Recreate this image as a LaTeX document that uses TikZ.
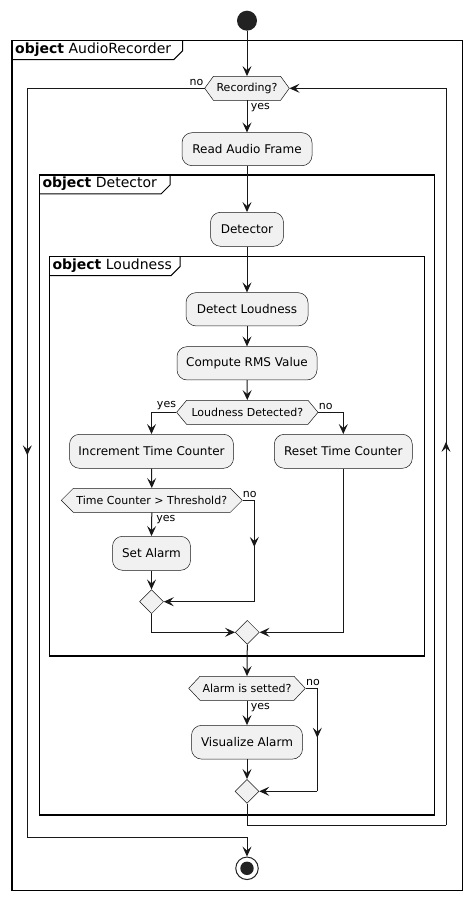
\documentclass[tikz,border=0pt]{standalone}
\usepackage{fontspec}
\setmainfont{DejaVu Sans}
\usetikzlibrary{arrows.meta,shapes.geometric,decorations.markings}

\definecolor{ln}{HTML}{181818}
\definecolor{bx}{HTML}{F1F1F1}
\definecolor{dot}{HTML}{222222}

\tikzset{
  arr/.tip={Stealth[length=10pt,width=9pt,inset=4pt]},
  flow/.style={draw=ln, line width=1pt},
  flowa/.style={flow, -arr},
  midarr/.style={flow, postaction={decorate},
    decoration={markings, mark=at position #1 with {\arrow{arr}}}},
  midarr/.default=0.5,
  act/.style={draw=ln, line width=0.5pt, fill=bx, rounded corners=10pt,
    inner sep=0pt, font=\fontsize{12}{14}\selectfont},
  hexbox/.style={draw=ln, line width=0.5pt, fill=bx},
  hextext/.style={inner sep=0pt, minimum height=24pt, font=\fontsize{11}{13}\selectfont},
  merge/.style={diamond, draw=ln, line width=0.5pt, fill=bx, minimum width=24pt,
    minimum height=24pt, inner sep=0pt, aspect=1},
  lbl/.style={font=\fontsize{11}{13}\selectfont, inner sep=0pt},
  frm/.style={draw=black, line width=1.5pt},
  tabline/.style={draw=black, line width=1pt},
  ftitle/.style={font=\fontsize{14}{16}\selectfont, inner sep=0pt, anchor=base west},
}

% name, cx, cy, half width, slant, text
\newcommand\hexagonat[6]{%
  \filldraw[hexbox] ({#2-#4},#3) -- ({#2-#4+#5},{#3-12}) -- ({#2+#4-#5},{#3-12})
    -- ({#2+#4},#3) -- ({#2+#4-#5},{#3+12}) -- ({#2-#4+#5},{#3+12}) -- cycle;
  \node[hextext, minimum width={2*#4}] (#1) at (#2,#3) {#6};}

% name, left, top, right, bottom, tab x, title
\newcommand\objframe[7]{%
  \draw[frm] (#2,#3) rectangle (#4,#5);
  \draw[tabline] (#6,#3) -- (#6,{#3+10}) -- ({#6-9},{#3+19}) -- (#2,{#3+19});
  \node[ftitle] (#1) at ({#2+3},{#3+12.5}) {\textbf{object} #7};}

\begin{document}
\begin{tikzpicture}[x=1pt,y=-1pt]
\fill[white] (0,0) rectangle (472,901);
\useasboundingbox (0,0) rectangle (472,901);

% frames
\objframe{fAR}{12}{40.7}{462.7}{890.7}{182.7}{AudioRecorder}
\objframe{fDet}{39.3}{175}{434.3}{815}{170}{Detector}
\objframe{fLoud}{49.3}{256.7}{424.3}{656}{180}{Loudness}

% start / end
\node[circle, fill=dot, minimum size=20pt, inner sep=0pt] (start) at (247,20.7) {};
\node[circle, draw=dot, fill=white, line width=1pt, minimum size=22.5pt, inner sep=0pt] (endn) at (247,868.3) {};
\fill[dot] (endn.center) circle (6.7pt);

% decisions
\hexagonat{rec}{247}{88.3}{42.3}{8.7}{Recording?}
\hexagonat{ld}{247.3}{412.3}{70.7}{10}{Loudness Detected?}
\hexagonat{tc}{151.8}{500.3}{90.5}{12}{Time Counter > Threshold?}
\hexagonat{al}{247}{688.3}{58.3}{11.3}{Alarm is setted?}

% actions
\node[act, minimum width=130pt, minimum height=33pt] (read) at (247,149.2) {Read Audio Frame};
\node[act, minimum width=73pt, minimum height=34pt] (det) at (247,229.3) {Detector};
\node[act, minimum width=122pt, minimum height=33.3pt] (dl) at (247,309.3) {Detect Loudness};
\node[act, minimum width=140pt, minimum height=33.3pt] (rms) at (247,363.3) {Compute RMS Value};
\node[act, minimum width=164pt, minimum height=34pt] (inc) at (151.5,451.3) {Increment Time Counter};
\node[act, minimum width=138pt, minimum height=34pt] (reset) at (343.3,451.3) {Reset Time Counter};
\node[act, minimum width=78pt, minimum height=34pt] (set) at (151.5,553.3) {Set Alarm};
\node[act, minimum width=111pt, minimum height=33.7pt] (vis) at (247,742.2) {Visualize Alarm};

% merges
\node[merge] (m1) at (151.5,601.7) {};
\node[merge] (m2) at (247.3,632.3) {};
\node[merge] (m3) at (247,791.3) {};

% helper coordinates
\coordinate (cL1) at (27.3,88.3);
\coordinate (cL2) at (27.3,837.3);
\coordinate (cR1) at (446,825);
\coordinate (cR2) at (446,88.3);
\coordinate (cT1) at (254.3,500.3);
\coordinate (cT2) at (254.3,601.7);
\coordinate (cA1) at (317.3,688.3);
\coordinate (cA2) at (317.3,791.3);

% connectors
\draw[flowa] (start) -- (rec.north);
\draw[flowa] (rec.south) -- (read.north);
\draw[flowa] (read.south) -- (det.north);
\draw[flowa] (det.south) -- (dl.north);
\draw[flowa] (dl.south) -- (rms.north);
\draw[flowa] (rms.south) -- (ld.north);
\draw[flowa] (ld.west) -| (inc.north);
\draw[flowa] (ld.east) -| (reset.north);
\draw[flowa] (inc.south) -- (tc.north);
\draw[flowa] (tc.south) -- (set.north);
\draw[flow] (tc.east) -- (cT1);
\draw[midarr=0.46] (cT1) -- (cT2);
\draw[flowa] (cT2) -- (m1.east);
\draw[flowa] (set.south) -- (m1.north);
\draw[flowa] (m1.south) |- (m2.west);
\draw[flowa] (reset.south) |- (m2.east);
\draw[flowa] (m2.south) -- (al.north);
\draw[flowa] (al.south) -- (vis.north);
\draw[flow] (al.east) -- (cA1);
\draw[midarr=0.48] (cA1) -- (cA2);
\draw[flowa] (cA2) -- (m3.east);
\draw[flowa] (vis.south) -- (m3.north);
\draw[flow] (m3.south) |- (cR1);
\draw[midarr=0.52] (cR1) -- (cR2);
\draw[flowa] (cR2) -- (rec.east);
\draw[flow] (rec.west) -- (cL1);
\draw[midarr=0.49] (cL1) -- (cL2);
\draw[flowa] (cL2) -| (endn.north);

% labels
\node[lbl, anchor=east] (lrecno) at (203.5,82.3) {no};
\node[lbl, anchor=west] (lrecyes) at (250.7,107.7) {yes};
\node[lbl, anchor=east] (lldyes) at (176.2,406) {yes};
\node[lbl, anchor=west] (lldno) at (318.7,406) {no};
\node[lbl, anchor=west] (ltcno) at (242.7,494.3) {no};
\node[lbl, anchor=west] (ltcyes) at (156.2,519.3) {yes};
\node[lbl, anchor=west] (lalno) at (306,682.3) {no};
\node[lbl, anchor=west] (lalyes) at (250.7,707.3) {yes};
\end{tikzpicture}
\end{document}
